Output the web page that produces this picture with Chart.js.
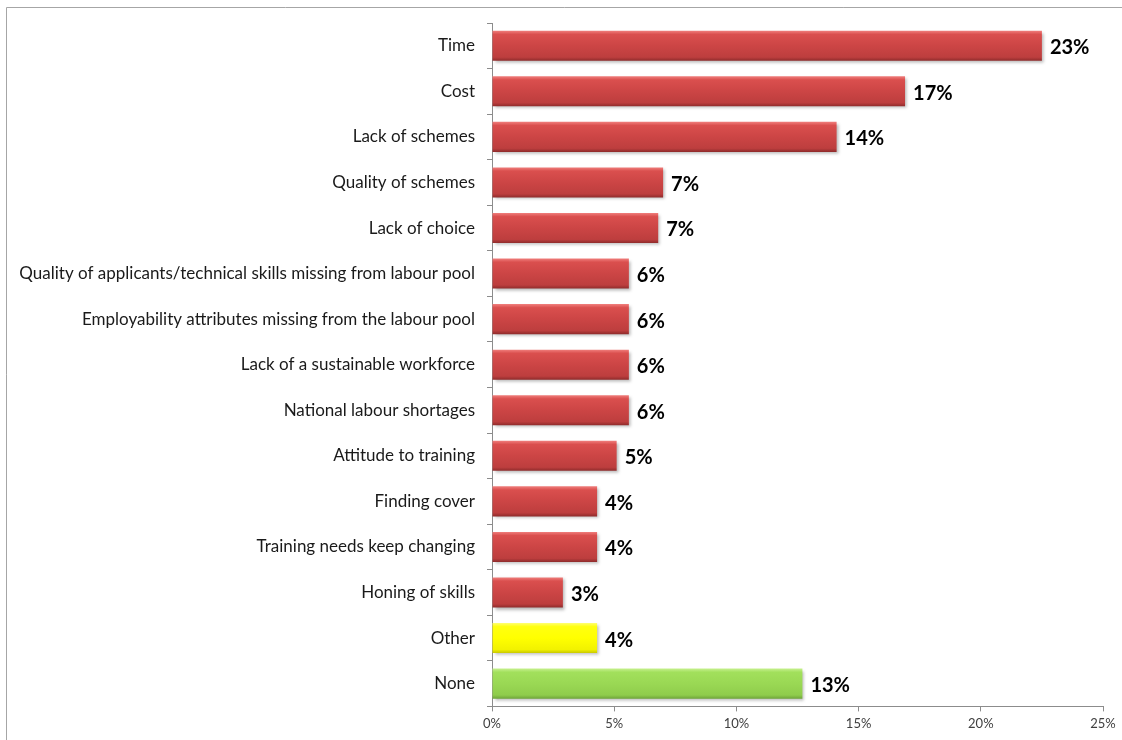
<!DOCTYPE html>
<html>
<head>
<meta charset="utf-8">
<script src="https://cdn.jsdelivr.net/npm/chart.js@4/dist/chart.umd.min.js"></script>
<style>
  html, body { margin: 0; padding: 0; background: #fff; }
  #wrap { width: 1122px; height: 740px; position: relative; }
</style>
</head>
<body>
<div id="wrap"><canvas id="barriers"></canvas></div>
<script>
const categories = [
  'Time',
  'Cost',
  'Lack of schemes',
  'Quality of schemes',
  'Lack of choice',
  'Quality of applicants/technical skills missing from labour pool',
  'Employability attributes missing from the labour pool',
  'Lack of a sustainable workforce',
  'National labour shortages',
  'Attitude to training',
  'Finding cover',
  'Training needs keep changing',
  'Honing of skills',
  'Other',
  'None'
];
const shares = [22.5, 16.9, 14.1, 7.0, 6.8, 5.6, 5.6, 5.6, 5.6, 5.1, 4.3, 4.3, 2.9, 4.3, 12.7];
const barKinds = ['red', 'red', 'red', 'red', 'red', 'red', 'red', 'red', 'red', 'red', 'red', 'red', 'red', 'yellow', 'green'];
const xTicks = [0, 5, 10, 15, 20, 25];

const FONT = 'Lato, "Open Sans", sans-serif';

// gradient stops per colour: light rim on top, darker edge below
const shades = {
  red:    ['#f07e7c', '#da4f4e', '#cc4545', '#bd3e3e', '#8e2b2b'],
  yellow: ['#ffff70', '#ffff10', '#ffff00', '#f2f200', '#c8c800'],
  green:  ['#c6f08e', '#a2e05c', '#9ad854', '#8fcc4c', '#6fa53a']
};

function barFill(ctx) {
  const chart = ctx.chart;
  const y = chart.scales.y;
  const kind = barKinds[ctx.dataIndex];
  const s = shades[kind];
  if (!y || !chart.chartArea) return s[2];
  const c = y.getPixelForValue(ctx.dataIndex);
  const half = (y.height / categories.length) * 0.66 / 2;
  const g = chart.ctx.createLinearGradient(0, c - half, 0, c + half);
  g.addColorStop(0, s[0]);
  g.addColorStop(0.12, s[1]);
  g.addColorStop(0.5, s[2]);
  g.addColorStop(0.88, s[3]);
  g.addColorStop(1, s[4]);
  return g;
}

// soft drop shadow under the bars
const barShadow = {
  id: 'barShadow',
  beforeDatasetsDraw(chart) {
    const c = chart.ctx;
    c.save();
    c.shadowColor = 'rgba(0,0,0,0.28)';
    c.shadowOffsetX = 2;
    c.shadowOffsetY = 2;
    c.shadowBlur = 3;
  },
  afterDatasetsDraw(chart) {
    chart.ctx.restore();
  }
};

// value labels at the end of each bar
const valueLabels = {
  id: 'valueLabels',
  afterDraw(chart) {
    const c = chart.ctx;
    const meta = chart.getDatasetMeta(0);
    c.save();
    c.font = 'bold 20px ' + FONT;
    c.fillStyle = '#000';
    c.textAlign = 'left';
    c.textBaseline = 'middle';
    meta.data.forEach((bar, i) => {
      c.fillText(Math.round(shares[i]) + '%', bar.x + 8, bar.y + 2);
    });
    c.restore();
  }
};

// outer chart frame
const frame = {
  id: 'frame',
  beforeDraw(chart) {
    const c = chart.ctx;
    c.save();
    c.strokeStyle = '#a6a6a6';
    c.lineWidth = 1;
    c.beginPath();
    c.moveTo(6.5, chart.height + 2);
    c.lineTo(6.5, 7.5);
    c.lineTo(chart.width + 2, 7.5);
    c.stroke();
    c.restore();
  }
};

new Chart(document.getElementById('barriers'), {
  type: 'bar',
  data: {
    labels: categories,
    datasets: [{
      data: shares,
      backgroundColor: barFill,
      borderWidth: 0,
      categoryPercentage: 1,
      barPercentage: 0.66
    }]
  },
  plugins: [frame, barShadow, valueLabels],
  options: {
    indexAxis: 'y',
    responsive: true,
    maintainAspectRatio: false,
    animation: false,
    layout: { padding: { left: 0, right: 19, top: 23, bottom: 3 } },
    plugins: {
      legend: { display: false },
      tooltip: { enabled: false }
    },
    scales: {
      x: {
        min: 0,
        max: 25,
        afterBuildTicks(scale) {
          scale.ticks = xTicks.map(v => ({ value: v }));
        },
        ticks: {
          callback: v => v + '%',
          color: '#404040',
          font: { family: FONT, size: 13 },
          padding: 5,
          maxRotation: 0
        },
        grid: {
          drawOnChartArea: false,
          drawTicks: true,
          tickLength: 5,
          color: '#8c8c8c'
        },
        border: { color: '#8c8c8c' }
      },
      y: {
        afterFit(scale) { scale.width = 492; },
        ticks: {
          color: '#1a1a1a',
          font: { family: FONT, size: 17 },
          padding: 12,
          autoSkip: false
        },
        grid: {
          offset: true,
          drawOnChartArea: false,
          drawTicks: true,
          tickLength: 5,
          color: '#8c8c8c'
        },
        border: { color: '#8c8c8c' }
      }
    }
  }
});
</script>
</body>
</html>
